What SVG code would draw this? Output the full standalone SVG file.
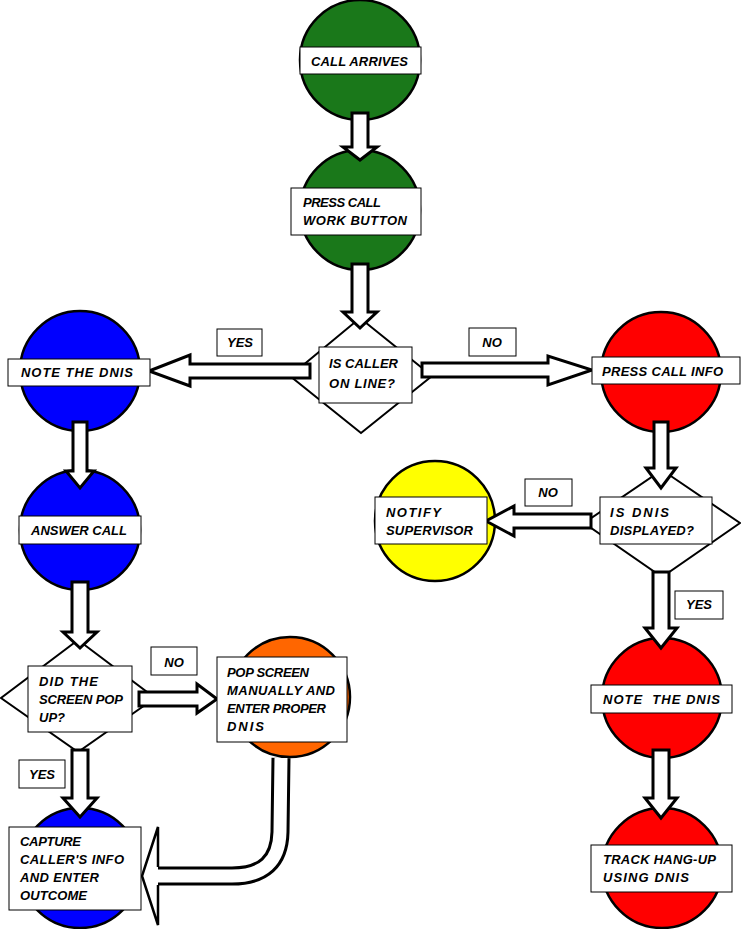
<svg xmlns="http://www.w3.org/2000/svg" width="741" height="929" viewBox="0 0 741 929">
<style>
.circ{stroke:#000;stroke-width:2.5}
.green{fill:#1a781a}
.blue{fill:#0000ff}
.red{fill:#ff0000}
.yellow{fill:#ffff00}
.orange{fill:#ff6600}
.box{fill:#fff;stroke:#000;stroke-width:1}
.dia{fill:#fff;stroke:#000;stroke-width:2}
.arr{fill:#fff;stroke:#000;stroke-width:3;stroke-linejoin:miter}
text{font-family:"Liberation Sans",Arial,sans-serif;font-weight:bold;font-style:italic;font-size:13px;fill:#000}
.c{text-anchor:middle}
</style>
<rect width="741" height="929" fill="#fff"/>

<g id="nodes-shapes">
  <g id="n-call-arrives"><circle class="circ green" cx="360" cy="60" r="60"/></g>
  <g id="n-press-call-work"><circle class="circ green" cx="360" cy="210" r="60"/></g>
  <g id="n-caller-on-line"><polygon class="dia" points="360,318 432,376 361,433 290,376"/></g>
  <g id="n-note-dnis-left"><circle class="circ blue" cx="80" cy="371" r="60"/></g>
  <g id="n-press-call-info"><circle class="circ red" cx="661" cy="372" r="60"/></g>
  <g id="n-dnis-displayed"><polygon class="dia" points="662,470 740,523 662,577 584,523"/></g>
  <g id="n-notify-supervisor"><circle class="circ yellow" cx="435" cy="521" r="60"/></g>
  <g id="n-note-dnis-right"><circle class="circ red" cx="662" cy="698" r="60"/></g>
  <g id="n-track-hangup"><circle class="circ red" cx="662" cy="868" r="60"/></g>
  <g id="n-answer-call"><circle class="circ blue" cx="80" cy="530" r="60"/></g>
  <g id="n-screen-pop"><polygon class="dia" points="78,640 155,698 78,752 1,698"/></g>
  <g id="n-pop-manually"><circle class="circ orange" cx="290" cy="697" r="60"/></g>
  <g id="n-capture"><circle class="circ blue" cx="80" cy="868" r="60"/></g>
</g>

<g id="connectors">
  <polygon class="arr" points="352,113 368,113 368,147 377,147 360,160 343,147 352,147"/>
  <polygon class="arr" points="352,264 368,264 368,312 377,312 360,328 343,312 352,312"/>
  <polygon class="arr" points="654,422 668,422 668,468 676,468 661,488 646,468 654,468"/>
  <polygon class="arr" points="653,572 669,572 669,628 677,628 661,648 645,628 653,628"/>
  <polygon class="arr" points="653,750 669,750 669,798 677,798 661,818 645,798 653,798"/>
  <polygon class="arr" points="73,422 87,422 87,471 94,471 80,488 66,471 73,471"/>
  <polygon class="arr" points="72,582 88,582 88,632 97,632 80,648 63,632 72,632"/>
  <polygon class="arr" points="72,750 88,750 88,798 97,798 80,817 63,798 72,798"/>
  <polygon class="arr" points="310,364 310,378 190,378 190,386 149,371 190,355 190,364"/>
  <polygon class="arr" points="422,363 422,377 548,377 548,385 592,370 548,356 548,363"/>
  <polygon class="arr" points="591,514 591,528 514,528 514,536 486,521 514,506 514,514"/>
  <polygon class="arr" points="139,692 139,706 197,706 197,713 217,699 197,684 197,692"/>
  <path d="M281,758 L280,832 Q279,876 232,876 L158,876" fill="none" stroke="#000" stroke-width="19"/>
  <path d="M281,758 L280,832 Q279,876 232,876 L157,876" fill="none" stroke="#fff" stroke-width="13"/>
  <path d="M158,867 L158,827 L142,876 L158,925 L158,885" fill="#fff" stroke="#000" stroke-width="2.5"/>
</g>

<g id="labels">
  <g id="l-call-arrives"><rect class="box" x="300" y="47" width="121" height="27"/><text x="311" y="66" textLength="97" lengthAdjust="spacing">CALL ARRIVES</text></g>
  <g id="l-press-call-work"><rect class="box" x="291" y="188" width="130" height="47"/><text x="303" y="207" textLength="78" lengthAdjust="spacing">PRESS CALL</text><text x="303" y="225" textLength="104" lengthAdjust="spacing">WORK BUTTON</text></g>
  <g id="l-caller-on-line"><rect class="box" x="319" y="347" width="93" height="56"/><text x="329" y="368" textLength="69" lengthAdjust="spacing">IS CALLER</text><text x="329" y="388" textLength="66" lengthAdjust="spacing">ON LINE?</text></g>
  <g id="l-yes1"><rect class="box" x="217" y="329" width="45" height="27"/><text class="c" x="240" y="347">YES</text></g>
  <g id="l-no1"><rect class="box" x="469" y="328" width="47" height="28"/><text class="c" x="492" y="347">NO</text></g>
  <g id="l-note-dnis-left"><rect class="box" x="8" y="359" width="142" height="27"/><text x="21" y="377" textLength="112" lengthAdjust="spacing">NOTE THE DNIS</text></g>
  <g id="l-press-call-info"><rect class="box" x="592" y="357" width="148" height="27"/><text x="602" y="376" textLength="121" lengthAdjust="spacing">PRESS CALL INFO</text></g>
  <g id="l-dnis-displayed"><rect class="box" x="600" y="497" width="112" height="47"/><text x="610" y="517" textLength="59" lengthAdjust="spacing">IS DNIS</text><text x="610" y="535" textLength="84" lengthAdjust="spacing">DISPLAYED?</text></g>
  <g id="l-no2"><rect class="box" x="525" y="479" width="47" height="27"/><text class="c" x="548" y="497">NO</text></g>
  <g id="l-notify-supervisor"><rect class="box" x="375" y="497" width="112" height="47"/><text x="386" y="517" textLength="55" lengthAdjust="spacing">NOTIFY</text><text x="386" y="535" textLength="87" lengthAdjust="spacing">SUPERVISOR</text></g>
  <g id="l-yes2"><rect class="box" x="675" y="591" width="48" height="28"/><text class="c" x="699" y="609">YES</text></g>
  <g id="l-note-dnis-right"><rect class="box" x="591" y="685" width="141" height="28"/><text x="603" y="704" xml:space="preserve" textLength="117" lengthAdjust="spacing">NOTE  THE DNIS</text></g>
  <g id="l-track-hangup"><rect class="box" x="591" y="845" width="141" height="47"/><text x="603" y="864" textLength="113" lengthAdjust="spacing">TRACK HANG-UP</text><text x="603" y="882" textLength="86" lengthAdjust="spacing">USING DNIS</text></g>
  <g id="l-answer-call"><rect class="box" x="19" y="516" width="122" height="28"/><text x="31" y="535" textLength="96" lengthAdjust="spacing">ANSWER CALL</text></g>
  <g id="l-screen-pop"><rect class="box" x="28" y="666" width="104" height="66"/><text x="39" y="686" textLength="59" lengthAdjust="spacing">DID THE</text><text x="39" y="704" textLength="84" lengthAdjust="spacing">SCREEN POP</text><text x="39" y="722">UP?</text></g>
  <g id="l-no3"><rect class="box" x="151" y="647" width="46" height="28"/><text class="c" x="174" y="667">NO</text></g>
  <g id="l-pop-manually"><rect class="box" x="217" y="657" width="130" height="85"/><text x="227" y="677" textLength="82" lengthAdjust="spacing">POP SCREEN</text><text x="227" y="695" textLength="108" lengthAdjust="spacing">MANUALLY AND</text><text x="227" y="713" textLength="99" lengthAdjust="spacing">ENTER PROPER</text><text x="227" y="731" textLength="37" lengthAdjust="spacing">DNIS</text></g>
  <g id="l-yes3"><rect class="box" x="19" y="760" width="46" height="28"/><text class="c" x="42" y="779">YES</text></g>
  <g id="l-capture"><rect class="box" x="9" y="827" width="132" height="83"/><text x="20" y="846" textLength="61" lengthAdjust="spacing">CAPTURE</text><text x="20" y="864" textLength="104" lengthAdjust="spacing">CALLER'S INFO</text><text x="20" y="882" textLength="79" lengthAdjust="spacing">AND ENTER</text><text x="20" y="900" textLength="67" lengthAdjust="spacing">OUTCOME</text></g>
</g>
</svg>
